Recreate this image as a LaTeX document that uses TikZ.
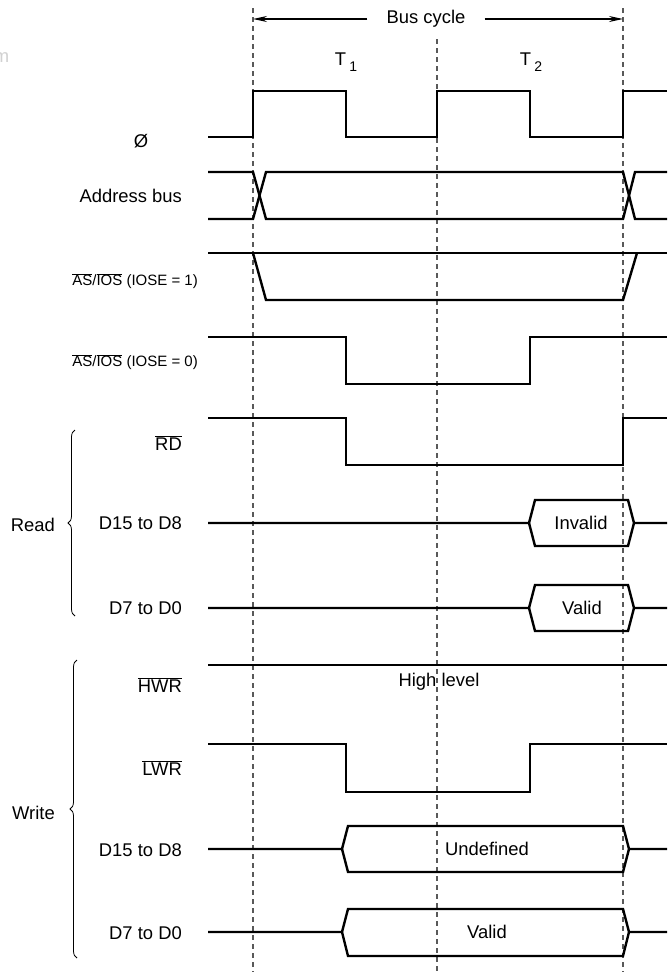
\documentclass[tikz,border=0pt]{standalone}
\usepackage{fontspec}
\setmainfont{Liberation Sans}
\usetikzlibrary{positioning,arrows.meta,decorations.pathreplacing}
\newcommand{\ovl}[1]{$\overline{\mbox{#1}}$}
\newcommand{\tsub}[1]{\raisebox{-0.6ex}{\fontsize{14}{14}\selectfont #1}}
\tikzset{
  sig/.style={line width=2.4pt,line join=miter},
  guide/.style={dashed,dash pattern=on 5pt off 4pt,line width=1.2pt,black!65},
  lbl/.style={font=\fontsize{18.4}{22}\selectfont,inner sep=0pt},
  slbl/.style={lbl,font=\fontsize{15}{18}\selectfont},
  grp/.style={decorate,decoration={brace,amplitude=7pt},line width=0.8pt}
}
\begin{document}
\begin{tikzpicture}[x=1pt,y=-1pt,>={Stealth[length=14pt,width=6pt]}]
  \useasboundingbox[fill=white] (0,0) rectangle (667,972);
  \node[lbl,text=black!18,anchor=east] (mark) at (9.5,58) {m};
  % cycle guides
  \draw[guide] (253,8) -- (253,972); \draw[guide] (437,39) -- (437,972); \draw[guide] (623,8) -- (623,972);
  \coordinate (bcl) at (253,19); \coordinate (bcr) at (623,19);
  \node[lbl,inner xsep=19pt] (bc) at (426,19) {Bus cycle};
  \draw[->,line width=1.4pt] (bc) -- (bcl); \draw[->,line width=1.4pt] (bc) -- (bcr);
  \node[lbl] (t1) at (346,62) {T\,\tsub{1}};
  \node[lbl] (t2) at (531,62) {T\,\tsub{2}};
  % clock
  \node[lbl] (phi) at (141,141) {Ø};
  \draw[sig] (208,137) -- (253,137) -- (253,91) -- (346,91) -- (346,137) -- (437,137) -- (437,91) -- (530,91) -- (530,137) -- (623,137) -- (623,91) -- (667,91);
  % address bus
  \node[lbl,anchor=east] (addr) at (182,196) {Address bus};
  \draw[sig] (208,172) -- (253,172) -- (266,219) -- (623,219) -- (635,172) -- (667,172);
  \draw[sig] (208,219) -- (253,219) -- (266,172) -- (623,172) -- (635,219) -- (667,219);
  % address strobe
  \node[slbl,anchor=east] (as1) at (198,281) {\ovl{AS}/\ovl{IOS} (IOSE = 1)};
  \draw[sig] (208,253) -- (667,253); \draw[sig] (253,253) -- (266,300) -- (623,300) -- (637,253);
  \node[slbl,anchor=east] (as0) at (198,362) {\ovl{AS}/\ovl{IOS} (IOSE = 0)};
  \draw[sig] (208,337) -- (346,337) -- (346,384) -- (530,384) -- (530,337) -- (667,337);
  % read
  \node[lbl,anchor=east] (rd) at (182,443) {\ovl{RD}};
  \draw[sig] (208,418) -- (346,418) -- (346,465) -- (623,465) -- (623,418) -- (667,418);
  \node[lbl,anchor=east] (rdh) at (182,523) {D15 to D8};
  \draw[sig] (208,523) -- (529,523) -- (535,500) -- (628,500) -- (634,523) -- (667,523); \draw[sig] (529,523) -- (535,546) -- (628,546) -- (634,523);
  \node[lbl] (inv) at (581,523) {Invalid};
  \node[lbl,anchor=east] (rdl) at (182,608) {D7 to D0};
  \draw[sig] (208,608) -- (529,608) -- (535,585) -- (628,585) -- (634,608) -- (667,608); \draw[sig] (529,608) -- (535,631) -- (628,631) -- (634,608);
  \node[lbl] (rval) at (582,608) {Valid};
  \draw[grp] (75,616) -- (75,430);
  \node[lbl,anchor=east] (read) at (55,525) {Read};
  % write
  \node[lbl,anchor=east] (hwr) at (182,685) {\ovl{HWR}};
  \draw[sig] (208,665) -- (667,665);
  \node[lbl] (hi) at (439,682) {High level};
  \node[lbl,anchor=east] (lwr) at (182,768) {\ovl{LWR}};
  \draw[sig] (208,744) -- (346,744) -- (346,792) -- (530,792) -- (530,744) -- (667,744);
  \node[lbl,anchor=east] (wrh) at (182,850) {D15 to D8};
  \draw[sig] (208,849) -- (342,849) -- (348,826) -- (623,826) -- (629,849) -- (667,849); \draw[sig] (342,849) -- (348,872) -- (623,872) -- (629,849);
  \node[lbl] (undef) at (487,849) {Undefined};
  \node[lbl,anchor=east] (wrl) at (182,933) {D7 to D0};
  \draw[sig] (208,932) -- (342,932) -- (348,909) -- (623,909) -- (629,932) -- (667,932); \draw[sig] (342,932) -- (348,956) -- (623,956) -- (629,932);
  \node[lbl] (wval) at (487,932) {Valid};
  \draw[grp] (77,958) -- (77,660);
  \node[lbl,anchor=east] (write) at (55,813) {Write};
\end{tikzpicture}
\end{document}
